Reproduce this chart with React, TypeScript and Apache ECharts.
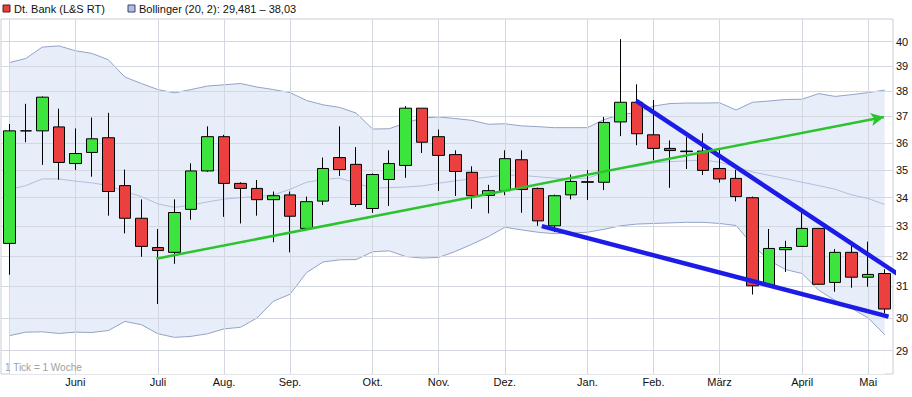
import React, { useEffect, useRef } from "react";
import * as echarts from "echarts";

// Weekly candles (week dates, Sundays)
const weekDates = [
  "2013-05-05","2013-05-12","2013-05-19","2013-05-26",
  "2013-06-02","2013-06-09","2013-06-16","2013-06-23","2013-06-30",
  "2013-07-07","2013-07-14","2013-07-21","2013-07-28",
  "2013-08-04","2013-08-11","2013-08-18","2013-08-25",
  "2013-09-01","2013-09-08","2013-09-15","2013-09-22","2013-09-29",
  "2013-10-06","2013-10-13","2013-10-20","2013-10-27",
  "2013-11-03","2013-11-10","2013-11-17","2013-11-24",
  "2013-12-01","2013-12-08","2013-12-15","2013-12-22","2013-12-29",
  "2014-01-05","2014-01-12","2014-01-19","2014-01-26",
  "2014-02-02","2014-02-09","2014-02-16","2014-02-23",
  "2014-03-02","2014-03-09","2014-03-16","2014-03-23","2014-03-30",
  "2014-04-06","2014-04-13","2014-04-20","2014-04-27",
  "2014-05-04","2014-05-11",
];

const opens = [
  32.42, 36.45, 36.45, 36.60, 35.23, 35.64, 36.19, 34.43, 33.28, 32.28,
  32.12, 33.59, 34.96, 36.23, 34.51, 34.33, 33.93, 34.10, 32.93, 33.88,
  35.45, 35.20, 33.62, 34.65, 35.16, 37.32, 36.23, 35.56, 34.91, 34.08,
  34.25, 35.37, 34.33, 33.02, 34.10, 34.57, 34.55, 36.79, 37.55, 36.30,
  35.79, 35.69, 35.69, 35.05, 34.69, 34.00, 31.04, 32.21, 32.32, 32.93,
  31.13, 32.12, 31.30, 31.42,
];
const closes = [
  36.45, 36.45, 37.75, 35.27, 35.60, 36.15, 34.22, 33.28, 32.32, 32.18,
  33.48, 34.96, 36.23, 34.51, 34.33, 33.93, 34.07, 33.35, 33.86, 35.05,
  35.01, 33.76, 34.83, 35.23, 37.32, 36.02, 35.53, 34.94, 34.07, 34.25,
  35.41, 34.29, 33.19, 34.07, 34.58, 34.55, 36.77, 37.55, 36.34, 35.79,
  35.71, 35.67, 34.98, 34.67, 34.04, 31.02, 32.25, 32.28, 32.93, 31.07,
  32.12, 31.30, 31.39, 30.28,
];
const lows = [
  31.38, 36.02, 35.18, 34.64, 35.00, 34.75, 33.37, 32.76, 31.97, 30.44,
  31.74, 33.23, 34.93, 33.33, 33.10, 33.37, 32.46, 32.12, 32.90, 33.74,
  34.78, 33.68, 33.47, 33.71, 34.71, 35.62, 34.24, 34.06, 33.61, 33.45,
  34.09, 33.47, 33.02, 32.80, 33.94, 33.92, 34.27, 36.25, 35.91, 35.35,
  34.35, 35.03, 34.81, 34.54, 33.87, 30.74, 31.02, 31.47, 32.30, 31.05,
  30.83, 30.96, 30.99, 30.15,
];
const highs = [
  36.71, 37.49, 37.78, 37.30, 36.54, 36.96, 37.14, 35.01, 33.94, 32.91,
  33.94, 35.24, 36.62, 36.30, 34.55, 34.63, 34.22, 34.22, 34.04, 35.45,
  36.62, 35.84, 34.87, 35.72, 37.40, 37.32, 36.50, 35.72, 35.13, 34.46,
  35.72, 35.72, 34.36, 34.11, 34.83, 34.99, 36.98, 40.10, 38.26, 37.64,
  36.09, 36.21, 36.36, 35.76, 35.00, 34.04, 32.91, 32.51, 33.62, 32.95,
  32.23, 32.48, 32.48, 31.56,
];

// Bollinger (20, 2)
const upperBand = [
  39.13, 39.30, 39.77, 39.82, 39.62, 39.51, 39.25, 38.55, 38.29, 38.05,
  37.92, 38.05, 38.19, 38.24, 38.29, 38.15, 38.05, 37.93, 37.62, 37.45,
  37.35, 37.13, 36.52, 36.53, 36.75, 36.94, 36.98, 36.92, 36.85, 36.70,
  36.72, 36.64, 36.61, 36.57, 36.57, 36.57, 36.88, 37.07, 37.15, 37.40,
  37.50, 37.52, 37.52, 37.53, 37.25, 37.55, 37.60, 37.66, 37.67, 37.89,
  37.78, 37.85, 37.93, 38.03,
];
const middleBand = [
  34.29, 34.43, 34.67, 34.67, 34.59, 34.53, 34.43, 34.22, 34.04, 33.78,
  33.66, 33.74, 33.85, 33.95, 34.00, 34.05, 34.10, 34.30, 34.55, 34.65,
  34.70, 34.52, 34.34, 34.36, 34.38, 34.42, 34.52, 34.60, 34.67, 34.74,
  34.81, 34.80, 34.75, 34.70, 34.68, 34.70, 34.90, 35.05, 35.12, 35.25,
  35.30, 35.33, 35.36, 35.28, 35.10, 34.92, 34.80, 34.68, 34.55, 34.43,
  34.30, 34.10, 33.97, 33.76,
];
const lowerBand = [
  29.45, 29.56, 29.57, 29.52, 29.56, 29.55, 29.61, 29.89, 29.79, 29.51,
  29.40, 29.43, 29.51, 29.66, 29.71, 30.00, 30.53, 30.75, 31.45, 31.80,
  31.87, 31.88, 32.14, 32.17, 31.98, 31.93, 31.95, 32.15, 32.39, 32.65,
  32.97, 32.88, 32.80, 32.75, 32.77, 32.80, 32.90, 33.02, 33.08, 33.10,
  33.12, 33.14, 33.14, 33.10, 33.03, 32.37, 31.85, 31.55, 31.42, 30.88,
  30.55, 30.30, 30.00, 29.48,
];

// Axis ticks
const yTicks = [29, 30, 31, 32, 33, 34, 35, 36, 37, 38, 39, 40];
const monthTickIndex = [0, 4, 9, 13, 17, 22, 26, 30, 35, 39, 43, 48, 52];
const monthTickLabel = ["", "Juni", "Juli", "Aug.", "Sep.", "Okt.", "Nov.", "Dez.", "Jan.", "Feb.", "März", "April", "Mai"];

// Drawn trend lines: [weekIndex, price]
const greenTrend = [[8.9, 31.91], [52.95, 36.98]];
const blueUpperTrend = [[37.94, 37.61], [53.82, 31.39]];
const blueLowerTrend = [[32.24, 33.01], [53.23, 30.04]];

const FONT = "Liberation Sans, Arial, sans-serif";

export default function App() {
  const ref = useRef<HTMLDivElement>(null);

  useEffect(() => {
    if (!ref.current) return;
    const chart = echarts.init(ref.current, null, { renderer: "svg" });
    const candleData = opens.map((o, i) => [o, closes[i], lows[i], highs[i]]);
    const gridColor = "#d3d7df";

    const option: any = {
      animation: false,
      backgroundColor: "#ffffff",
      textStyle: { fontFamily: FONT },
      grid: {
        left: 1,
        right: 19,
        top: 19,
        bottom: 23,
        show: true,
        borderColor: "#c9cdd6",
        borderWidth: 1,
        backgroundColor: "transparent",
      },
      xAxis: [
        {
          type: "category",
          data: weekDates,
          boundaryGap: true,
          axisLine: { show: false },
          axisTick: { show: false },
          splitLine: { show: false },
          axisLabel: {
            interval: (i: number) => monthTickIndex.indexOf(i) > 0,
            formatter: (_v: string, i: number) => {
              const k = monthTickIndex.indexOf(i);
              return k >= 0 ? monthTickLabel[k] : "";
            },
            color: "#111",
            fontSize: 11,
            fontFamily: FONT,
            margin: 2,
          },
        },
        {
          type: "value",
          min: -0.5,
          max: 53.5,
          show: false,
        },
      ],
      yAxis: {
        type: "log",
        logBase: 10,
        min: 28.3,
        max: 40.95,
        axisLine: { show: false },
        axisTick: { show: false },
        axisLabel: { show: false },
        splitLine: { show: false },
      },
      graphic: {
        elements: [
          { type: "rect", z: 100, shape: { x: 3, y: 5, width: 7, height: 7 }, style: { fill: "#e8403c", stroke: "#5a1a1a", lineWidth: 1 } },
          { type: "text", z: 100, x: 14, y: 9, style: { text: "Dt. Bank (L&S RT)", fill: "#111", font: `11px ${FONT}`, verticalAlign: "middle" } },
          { type: "rect", z: 100, shape: { x: 128, y: 5, width: 7, height: 7 }, style: { fill: "#aebde6", stroke: "#3a4466", lineWidth: 1 } },
          { type: "text", z: 100, x: 139, y: 9, style: { text: "Bollinger (20, 2): 29,481 – 38,03", fill: "#111", font: `11px ${FONT}`, verticalAlign: "middle" } },
          { type: "text", z: 100, x: 5, y: 367, style: { text: "1 Tick = 1 Woche", fill: "#a0a0a0", font: `10px ${FONT}`, verticalAlign: "middle" } },
        ],
      },
      series: [
        {
          name: "BB oben",
          type: "line",
          xAxisIndex: 0,
          data: upperBand,
          symbol: "none",
          z: 1,
          lineStyle: { color: "#93a3c6", width: 1 },
          areaStyle: { color: "#e7eefa", opacity: 1, origin: "start" },
          silent: true,
        },
        {
          name: "BB unten",
          type: "line",
          xAxisIndex: 0,
          data: lowerBand,
          symbol: "none",
          z: 2,
          lineStyle: { color: "#93a3c6", width: 1 },
          areaStyle: { color: "#ffffff", opacity: 1, origin: "start" },
          silent: true,
        },
        {
          name: "grid",
          type: "line",
          xAxisIndex: 1,
          data: [],
          silent: true,
          markLine: {
            z: 3,
            silent: true,
            symbol: ["none", "none"],
            animation: false,
            lineStyle: { color: gridColor, width: 1, type: "solid" },
            data: [
              ...yTicks.map((v) => ({
                yAxis: v,
                label: {
                  show: true,
                  position: "end",
                  distance: 3,
                  formatter: String(v),
                  color: "#111",
                  fontSize: 11,
                  fontFamily: FONT,
                },
              })),
              ...monthTickIndex.map((i) => ({ xAxis: i, label: { show: false } })),
            ],
          },
        },
        {
          name: "BB mitte",
          type: "line",
          xAxisIndex: 0,
          data: middleBand,
          symbol: "none",
          z: 4,
          lineStyle: { color: "#b2bfdb", width: 1 },
          silent: true,
        },
        {
          name: "Dt. Bank (L&S RT)",
          type: "candlestick",
          xAxisIndex: 0,
          data: candleData,
          barWidth: 12,
          z: 10,
          itemStyle: {
            color: "#3de43d",
            color0: "#ec3f3f",
            borderColor: "#000",
            borderColor0: "#000",
            borderColorDoji: "#000",
            borderWidth: 1,
          },
        },
        {
          name: "Trend unten",
          type: "line",
          xAxisIndex: 1,
          data: blueLowerTrend,
          symbol: "none",
          clip: false,
          z: 11,
          lineStyle: { color: "#1c1ce6", width: 4.5 },
          silent: true,
        },
        {
          name: "Trend oben",
          type: "line",
          xAxisIndex: 1,
          data: blueUpperTrend,
          symbol: "none",
          clip: false,
          z: 11,
          lineStyle: { color: "#1c1ce6", width: 4.5 },
          silent: true,
        },
        {
          name: "Trend grün",
          type: "line",
          xAxisIndex: 1,
          data: [],
          silent: true,
          markLine: {
            z: 12,
            silent: true,
            animation: false,
            symbol: ["none", "arrow"],
            symbolSize: [10, 13],
            label: { show: false },
            lineStyle: { color: "#2cc42c", width: 2.5, type: "solid" },
            data: [[{ coord: greenTrend[0] }, { coord: greenTrend[1] }]],
          },
        },
      ],
    };

    chart.setOption(option);
    return () => chart.dispose();
  }, []);

  return <div ref={ref} style={{ width: 912, height: 397, position: "absolute", left: 0, top: 0 }} />;
}
